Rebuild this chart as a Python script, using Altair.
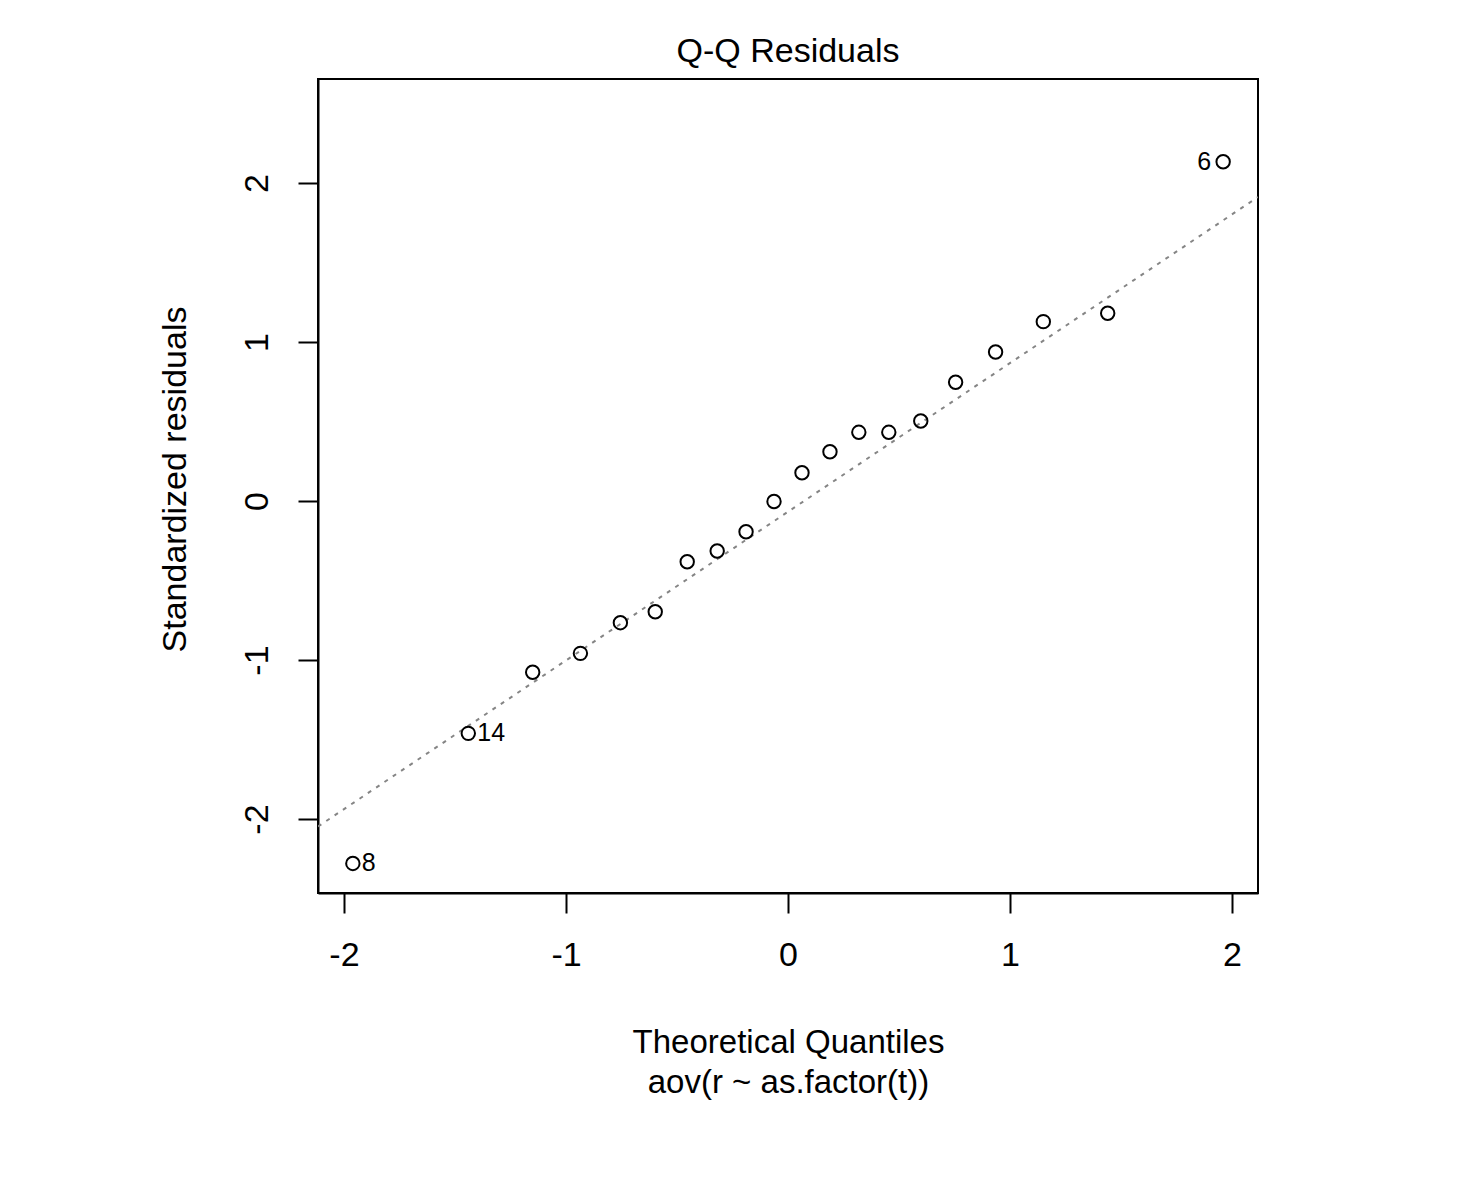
import altair as alt
import pandas as pd

# ---- data ----
theoretical = [-1.960, -1.440, -1.150, -0.935, -0.755, -0.598, -0.454, -0.319, -0.189, -0.063,
               0.063, 0.189, 0.319, 0.454, 0.598, 0.755, 0.935, 1.150, 1.440, 1.960]
std_resid = [-2.279, -1.461, -1.077, -0.958, -0.765, -0.696, -0.382, -0.314, -0.193, -0.003,
             0.178, 0.310, 0.432, 0.432, 0.503, 0.747, 0.937, 1.128, 1.181, 2.134]

# labelled observations: (theoretical, residual, label)
labels_right_x = [-1.960, -1.440]
labels_right_y = [-2.279, -1.461]
labels_right_t = ["8", "14"]
labels_left_x = [1.960]
labels_left_y = [2.134]
labels_left_t = ["6"]

# reference (qqline) endpoints at the plot edges
line_x = [-2.117, 2.117]
line_y = [-2.047, 1.912]

x_ticks = [-2, -1, 0, 1, 2]
y_ticks = [-2, -1, 0, 1, 2]
x_domain = [-2.117, 2.117]
y_domain = [-2.465, 2.654]

FONT = "Liberation Sans, Arial, sans-serif"
FS = 34

pts = pd.DataFrame({"x": theoretical, "y": std_resid})
lr = pd.DataFrame({"x": labels_right_x, "y": labels_right_y, "t": labels_right_t})
ll = pd.DataFrame({"x": labels_left_x, "y": labels_left_y, "t": labels_left_t})
ln = pd.DataFrame({"x": line_x, "y": line_y})

xscale = alt.Scale(domain=x_domain, nice=False, zero=False)
yscale = alt.Scale(domain=y_domain, nice=False, zero=False)

xaxis = alt.Axis(
    values=x_ticks, labelExpr="'' + datum.value", grid=False,
    domain=True, domainColor="black", domainWidth=2,
    ticks=True, tickColor="black", tickWidth=2, tickSize=20,
    labelFont=FONT, labelFontSize=FS, labelColor="black",
    labelBaseline="alphabetic", labelPadding=52, labelFlush=False,
    title=["Theoretical Quantiles", "aov(r ~ as.factor(t))"],
    titleFont=FONT, titleFontSize=33, titleFontWeight="normal", titleColor="black",
    titleBaseline="alphabetic", titleAlign="center", titleLineHeight=40,
    titleX=470, titleY=159,
)
yaxis = alt.Axis(
    values=y_ticks, labelExpr="'' + datum.value", grid=False,
    domain=True, domainColor="black", domainWidth=2,
    ticks=True, tickColor="black", tickWidth=2, tickSize=20,
    labelFont=FONT, labelFontSize=FS, labelColor="black",
    labelAngle=270, labelAlign="center", labelBaseline="alphabetic",
    labelPadding=31, labelFlush=False,
    title="Standardized residuals",
    titleFont=FONT, titleFontSize=FS, titleFontWeight="normal", titleColor="black",
    titleAngle=270, titleAlign="center", titleBaseline="alphabetic",
    titleX=-133, titleY=400,
)

line = alt.Chart(ln).mark_line(
    color="#858585", strokeWidth=2, strokeDash=[4, 6], clip=True
).encode(
    x=alt.X("x:Q", scale=xscale, axis=xaxis),
    y=alt.Y("y:Q", scale=yscale, axis=yaxis),
)

points = alt.Chart(pts).mark_point(
    shape="circle", filled=False, color="black", strokeWidth=2, size=180, opacity=1
).encode(
    x=alt.X("x:Q", scale=xscale),
    y=alt.Y("y:Q", scale=yscale),
)

text_r = alt.Chart(lr).mark_text(
    align="left", baseline="middle", dx=9, font=FONT, fontSize=25, color="black"
).encode(x=alt.X("x:Q", scale=xscale), y=alt.Y("y:Q", scale=yscale), text="t:N")

text_l = alt.Chart(ll).mark_text(
    align="right", baseline="middle", dx=-12, font=FONT, fontSize=25, color="black"
).encode(x=alt.X("x:Q", scale=xscale), y=alt.Y("y:Q", scale=yscale), text="t:N")

chart = alt.layer(line, points, text_r, text_l).properties(
    width=940, height=814,
    title=alt.TitleParams(
        "Q-Q Residuals", font=FONT, fontSize=FS, fontWeight="normal", color="black",
        anchor="middle", frame="group", baseline="alphabetic", offset=16, dy=33,
    ),
    autosize=alt.AutoSizeParams(type="none"),
    padding={"left": 310, "top": 71, "right": 193, "bottom": 277},
).configure_view(stroke="black", strokeWidth=2)

chart.save("out.html", embed_options={"renderer": "svg", "actions": False})
